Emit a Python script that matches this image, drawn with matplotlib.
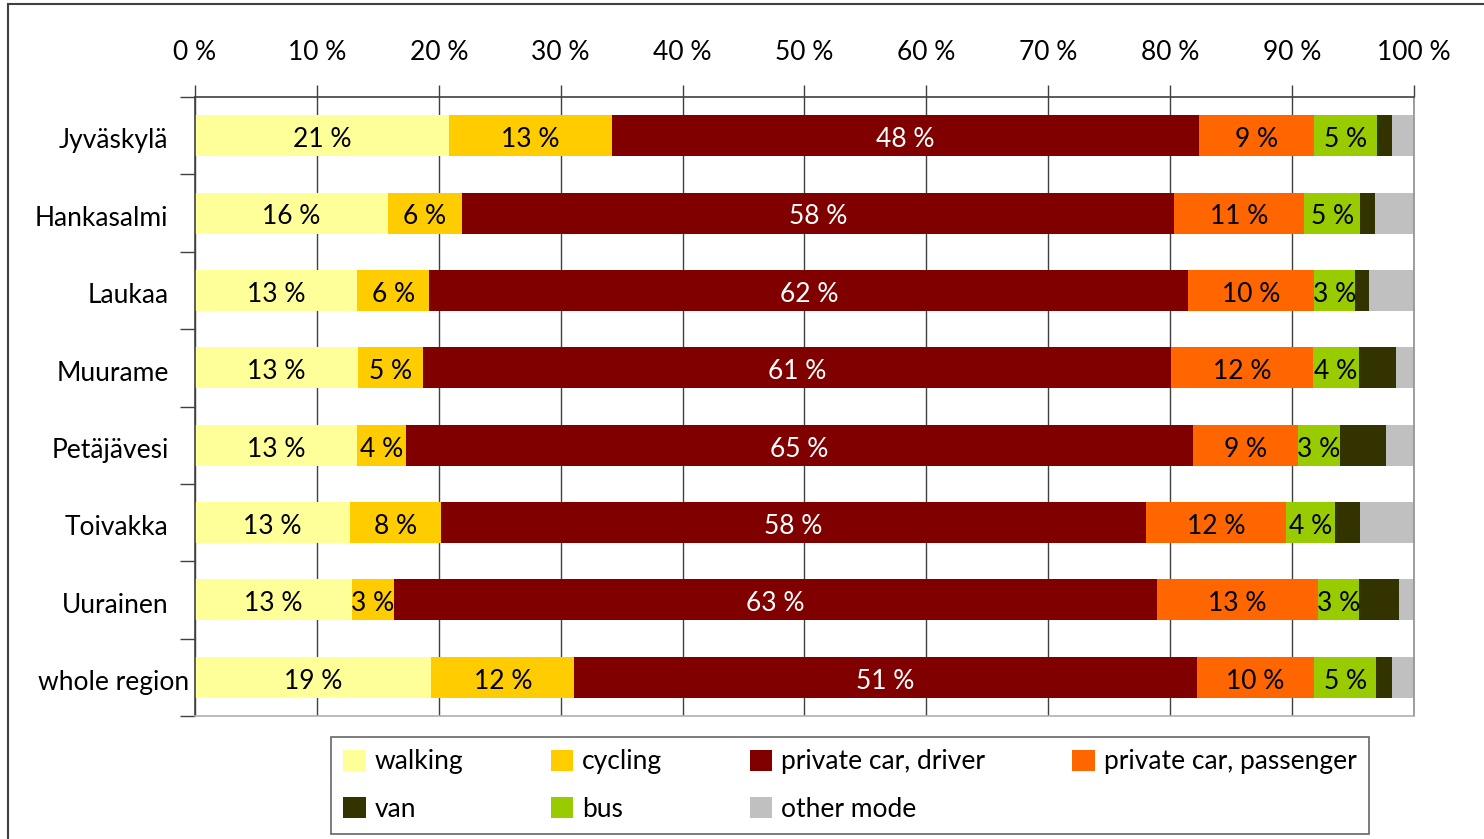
import numpy as np
from matplotlib import pyplot as plt
from matplotlib.patches import Rectangle
from matplotlib.transforms import ScaledTranslation

plt.rcParams['font.family'] = ['Lato', 'DejaVu Sans']

places = ['Jyväskylä', 'Hankasalmi', 'Laukaa', 'Muurame', 'Petäjävesi',
          'Toivakka', 'Uurainen', 'whole region']

modes = ['walking', 'cycling', 'private car, driver', 'private car, passenger',
         'bus', 'van', 'other mode']

walking   = [20.8, 15.8, 13.3, 13.4, 13.3, 12.7, 12.9, 19.4]
cycling   = [13.4, 6.1, 5.9, 5.3, 4.0, 7.5, 3.4, 11.7]
driver    = [48.2, 58.4, 62.3, 61.4, 64.6, 57.8, 62.6, 51.1]
passenger = [9.4, 10.7, 10.3, 11.6, 8.6, 11.5, 13.2, 9.6]
bus       = [5.2, 4.6, 3.4, 3.8, 3.4, 4.0, 3.4, 5.1]
van       = [1.2, 1.2, 1.1, 3.0, 3.8, 2.1, 3.3, 1.3]
other     = [1.7, 3.2, 3.8, 1.6, 2.3, 4.4, 1.3, 1.8]

series = [walking, cycling, driver, passenger, bus, van, other]
colors = ['#FFFF99', '#FFCC00', '#800000', '#FF6600', '#99CC00', '#333300', '#C0C0C0']
labelled = [True, True, True, True, True, False, False]
text_col = ['black', 'black', 'white', 'black', 'black', 'black', 'black']

FS = 19

fig = plt.figure(figsize=(14.84, 8.39), dpi=100)
ax = fig.add_axes([195/1484, 1-716/839, (1414-195)/1484, (716-97)/839])

y = np.arange(len(places))
left = np.zeros(len(places))
handles = {}
for vals, c, name, lab, tc in zip(series, colors, modes, labelled, text_col):
    vals = np.array(vals)
    b = ax.barh(y, vals, left=left, height=0.53, color=c, zorder=3, label=name)
    handles[name] = b
    if lab:
        for yi, l, v in zip(y, left, vals):
            ax.text(l + v/2, yi + 0.05, f'{round(v):d} %', ha='center', va='center',
                    fontsize=FS, color=tc, zorder=4)
    left += vals

ax.set_xlim(0, 100)
ax.set_ylim(len(places) - 0.5, -0.5)
ax.xaxis.tick_top()
ax.set_xticks(np.arange(0, 101, 10))
ax.set_xticklabels([f'{v} %' for v in range(0, 101, 10)], fontsize=FS)
ax.tick_params(axis='x', length=9, width=1, color='#404040', pad=14)
ax.grid(axis='x', color='#404040', linewidth=1, zorder=0)

ax.set_yticks(y)
ax.set_yticklabels(places, fontsize=FS)
ax.set_yticks(np.arange(-0.5, len(places)), minor=True)
ax.tick_params(axis='y', which='major', length=0, pad=19)
ax.tick_params(axis='y', which='minor', length=11, width=1, color='#404040')
shift_down = ScaledTranslation(0, -2/72, fig.dpi_scale_trans)
for t in ax.get_yticklabels():
    t.set_transform(t.get_transform() + shift_down)
# the long label sits closer to the axis, as in the original
lab = ax.get_yticklabels()[-1]
lab.set_transform(lab.get_transform() + ScaledTranslation(15/72, 0, fig.dpi_scale_trans))

ax.spines['top'].set_color('#404040')
ax.spines['left'].set_color('#404040')
ax.spines['bottom'].set_color('#B0B0B0')
ax.spines['right'].set_color('#909090')
for s in ax.spines.values():
    s.set_linewidth(1.2)
    s.set_zorder(5)

order = ['walking', 'van', 'cycling', 'bus', 'private car, driver', 'other mode',
         'private car, passenger']
leg = fig.legend([handles[o] for o in order], order, ncol=4, loc='center',
                 bbox_to_anchor=((333+1367)/2/1484, 1-(738+833)/2/839),
                 fontsize=FS, frameon=True, fancybox=False, edgecolor='#404040',
                 handlelength=0.85, handleheight=0.85, handletextpad=0.35,
                 columnspacing=3.3, borderpad=0.45, borderaxespad=0,
                 labelspacing=0.85)
leg.get_frame().set_linewidth(1.2)

fig.patches.append(Rectangle((8/1484, -0.05), 1.2, 1.05 - 4/839,
                             transform=fig.transFigure, fill=False,
                             edgecolor='#404040', linewidth=1.5))

fig.savefig('out.png', dpi=100)
